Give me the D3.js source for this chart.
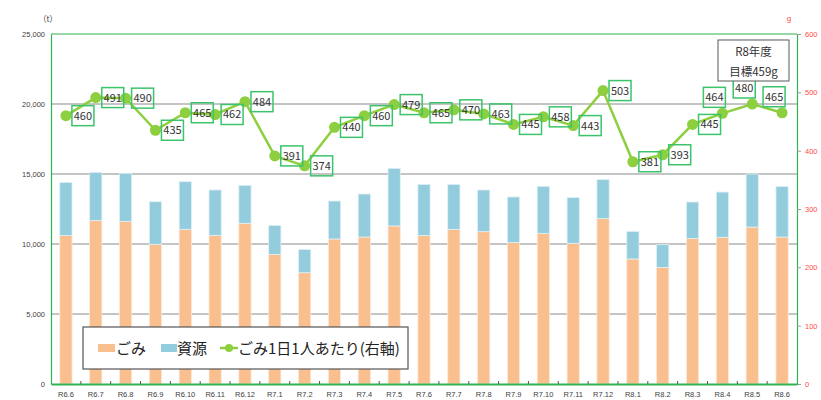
<!DOCTYPE html>
<html>
<head>
<meta charset="utf-8">
<script src="https://cdn.jsdelivr.net/npm/d3@7"></script>
<style>
  body { margin: 0; background: #fff; }
  text { font-family: "Liberation Sans", "Noto Sans CJK JP", sans-serif; }
  .jp { font-family: "Noto Sans CJK JP", sans-serif; }
</style>
</head>
<body>
<div id="chart"></div>
<script>
// months
const months = ["R6.6","R6.7","R6.8","R6.9","R6.10","R6.11","R6.12",
  "R7.1","R7.2","R7.3","R7.4","R7.5","R7.6","R7.7","R7.8","R7.9","R7.10","R7.11","R7.12",
  "R8.1","R8.2","R8.3","R8.4","R8.5","R8.6"];

// ごみ (t)
const gomi = [10600, 11670, 11620, 9980, 11050, 10620, 11480,
  9260, 7950, 10360, 10500, 11290, 10600, 11050, 10880, 10100, 10760, 10050, 11810,
  8930, 8330, 10400, 10480, 11210, 10500];

// 資源 (t)
const shigen = [3800, 3450, 3430, 3040, 3400, 3240, 2710,
  2070, 1650, 2710, 3070, 4110, 3660, 3210, 2980, 3260, 3360, 3260, 2790,
  1970, 1620, 2600, 3230, 3790, 3600];

// ごみ1日1人あたり (g)
const perPerson = [460, 491, 490, 435, 465, 462, 484,
  391, 374, 440, 460, 479, 465, 470, 463, 445, 458, 443, 503,
  381, 393, 445, 464, 480, 465];

// where each label sits next to its point
const labelPos = months.map((m, i) => i >= 22 ? "aboveLeft" : "right");

const leftTicks = [0, 5000, 10000, 15000, 20000, 25000];
const rightTicks = [0, 100, 200, 300, 400, 500, 600];

const width = 821, height = 400;
const margin = {top: 34, right: 24, bottom: 16, left: 51};
const frameColor = "#2fb350";

const svg = d3.select("#chart").append("svg")
  .attr("width", width)
  .attr("height", height);

const x = d3.scaleBand()
  .domain(months)
  .range([margin.left, width - margin.right]);

const yL = d3.scaleLinear().domain([0, 25000]).range([height - margin.bottom, margin.top]);
const yR = d3.scaleLinear().domain([0, 600]).range([height - margin.bottom, margin.top]);

// grid lines
svg.append("g")
  .selectAll("line")
  .data(leftTicks.filter(t => t > 0 && t < 25000))
  .enter()
  .append("line")
  .attr("x1", margin.left)
  .attr("x2", width - margin.right)
  .attr("y1", d => yL(d))
  .attr("y2", d => yL(d))
  .attr("stroke", "#8a8a8a")
  .attr("stroke-width", 1);

// stacked bars
const bw = x.bandwidth() * 0.41;
const bars = svg.append("g");

bars.selectAll(".gomi")
  .data(months)
  .enter()
  .append("rect")
  .attr("x", d => x(d) + (x.bandwidth() - bw) / 2)
  .attr("y", (d, i) => yL(gomi[i]))
  .attr("width", bw)
  .attr("height", (d, i) => yL(0) - yL(gomi[i]))
  .attr("fill", "#f9bf8f")
  .attr("stroke", "#fde9da")
  .attr("stroke-width", 0.8);

bars.selectAll(".shigen")
  .data(months)
  .enter()
  .append("rect")
  .attr("x", d => x(d) + (x.bandwidth() - bw) / 2)
  .attr("y", (d, i) => yL(gomi[i] + shigen[i]))
  .attr("width", bw)
  .attr("height", (d, i) => yL(gomi[i]) - yL(gomi[i] + shigen[i]))
  .attr("fill", "#93cddd")
  .attr("stroke", "#dff0f5")
  .attr("stroke-width", 0.8);

// frame
svg.append("line")
  .attr("x1", margin.left).attr("x2", width - margin.right)
  .attr("y1", margin.top).attr("y2", margin.top)
  .attr("stroke", frameColor).attr("stroke-width", 1.2);

// left axis
const axL = svg.append("g")
  .attr("transform", `translate(${margin.left},0)`)
  .call(d3.axisLeft(yL).tickValues(leftTicks).tickSize(0).tickPadding(6).tickFormat(d3.format(",")));
axL.select(".domain").attr("stroke", frameColor).attr("stroke-width", 1.2);
axL.selectAll("text").attr("fill", "#404040").style("font-size", "7.5px");

// right axis
const axR = svg.append("g")
  .attr("transform", `translate(${width - margin.right},0)`)
  .call(d3.axisRight(yR).tickValues(rightTicks).tickSize(4).tickPadding(4));
axR.select(".domain").attr("stroke", frameColor).attr("stroke-width", 1.2);
axR.selectAll(".tick line").attr("stroke", "#999");
axR.selectAll("text").attr("fill", "#ff4b4b").style("font-size", "7.5px");

// bottom axis
const axB = svg.append("g")
  .attr("transform", `translate(0,${height - margin.bottom})`)
  .call(d3.axisBottom(x).tickSize(0).tickPadding(8));
axB.select(".domain").attr("stroke", frameColor).attr("stroke-width", 2);
axB.selectAll("text").attr("fill", "#404040").style("font-size", "7.5px");

svg.append("g")
  .selectAll("line")
  .data(months.slice(1))
  .enter()
  .append("line")
  .attr("x1", d => x(d)).attr("x2", d => x(d))
  .attr("y1", height - margin.bottom - 3)
  .attr("y2", height - margin.bottom)
  .attr("stroke", "#555");

// unit labels
svg.append("text").attr("x", 48).attr("y", 22)
  .attr("text-anchor", "middle").style("font-size", "8px").attr("fill", "#404040")
  .attr("class", "jp").text("（t）");
svg.append("text").attr("x", 789).attr("y", 21)
  .attr("text-anchor", "middle").style("font-size", "8px").attr("fill", "#ff4b4b")
  .text("g");

// line
const cx = d => x(d) + x.bandwidth() / 2;
const line = d3.line()
  .x((d, i) => cx(months[i]))
  .y(d => yR(d));

svg.append("path")
  .datum(perPerson)
  .attr("d", line)
  .attr("fill", "none")
  .attr("stroke", "#8dcf3f")
  .attr("stroke-width", 2.5);

svg.append("g")
  .selectAll("circle")
  .data(perPerson)
  .enter()
  .append("circle")
  .attr("cx", (d, i) => cx(months[i]))
  .attr("cy", d => yR(d))
  .attr("r", 5.5)
  .attr("fill", "#8dcf3f");

// data labels
const lab = svg.append("g")
  .selectAll("g")
  .data(perPerson)
  .enter()
  .append("g")
  .attr("transform", (d, i) => {
    const px = cx(months[i]), py = yR(d);
    if (labelPos[i] === "aboveLeft") return `translate(${px - 8},${py - 16})`;
    return `translate(${px + 17},${py})`;
  });

lab.append("rect")
  .attr("x", -11).attr("y", -10)
  .attr("width", 22).attr("height", 20)
  .attr("fill", "none")
  .attr("stroke", "#3cc46a")
  .attr("stroke-width", 1.5);

lab.append("text")
  .attr("text-anchor", "middle")
  .attr("dy", "0.36em")
  .style("font-size", "11px")
  .attr("fill", "#333")
  .attr("class", "jp")
  .text(d => d);

// target box
const tb = svg.append("g").attr("transform", "translate(718,40)");
tb.append("rect").attr("width", 71).attr("height", 41)
  .attr("fill", "#fff").attr("stroke", "#595959").attr("stroke-width", 1);
tb.append("text").attr("class", "jp").attr("x", 35.5).attr("y", 16)
  .attr("text-anchor", "middle").style("font-size", "11.5px").attr("fill", "#333").text("R8年度");
tb.append("text").attr("class", "jp").attr("x", 35.5).attr("y", 36)
  .attr("text-anchor", "middle").style("font-size", "11.5px").attr("fill", "#333").text("目標459g");

// legend
const lg = svg.append("g").attr("transform", "translate(83,327)");
lg.append("rect").attr("width", 325).attr("height", 42)
  .attr("fill", "#fff").attr("stroke", "#555").attr("stroke-width", 1.2);

lg.append("rect").attr("x", 15).attr("y", 17).attr("width", 17).attr("height", 8).attr("fill", "#f9bf8f");
lg.append("text").attr("class", "jp").attr("x", 33).attr("y", 27)
  .style("font-size", "15px").attr("fill", "#222").text("ごみ");

lg.append("rect").attr("x", 78).attr("y", 17).attr("width", 16).attr("height", 8).attr("fill", "#93cddd");
lg.append("text").attr("class", "jp").attr("x", 94).attr("y", 27)
  .style("font-size", "15px").attr("fill", "#222").text("資源");

lg.append("line").attr("x1", 137).attr("x2", 155).attr("y1", 21).attr("y2", 21)
  .attr("stroke", "#8dcf3f").attr("stroke-width", 2.5);
lg.append("circle").attr("cx", 146).attr("cy", 21).attr("r", 4).attr("fill", "#8dcf3f");
lg.append("text").attr("class", "jp").attr("x", 155).attr("y", 27)
  .style("font-size", "15px").attr("fill", "#222").text("ごみ1日1人あたり(右軸)");
</script>
</body>
</html>
